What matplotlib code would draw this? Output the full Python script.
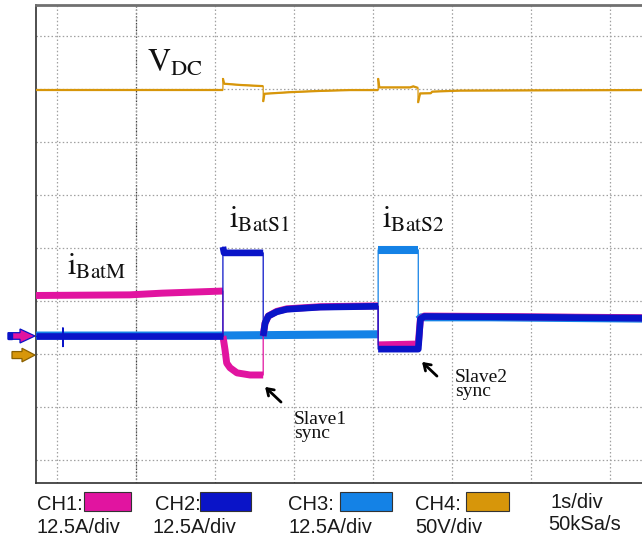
import matplotlib
matplotlib.use('Agg')
import matplotlib.pyplot as plt
import matplotlib.transforms as mtransforms
from matplotlib.patches import Rectangle, Polygon
from matplotlib import font_manager

plt.rcParams['mathtext.fontset'] = 'stix'

# ---------------- scope settings ----------------
channels = ['CH1:', 'CH2:', 'CH3:', 'CH4:']
channel_colors = ['#E114A0', '#0A14C8', '#1482E6', '#D7960A']
channel_scales = ['12.5A/div', '12.5A/div', '12.5A/div', '50V/div']
timebase_labels = ['1s/div', '50kSa/s']
amps_per_div = 12.5
volts_per_div = 50.0
gnd_current_div = 2.34    # ground marker CH1..CH3 (divisions above lowest grid line)
gnd_voltage_div = 1.98    # ground marker CH4

# ---------------- traces (time [s], value [A] / [V]) ----------------
t_vdc = [-0.27, 2.10, 2.10, 2.115, 2.32, 2.61, 2.61, 2.625, 2.95, 3.33, 3.71,
         4.065, 4.065, 4.08, 4.47, 4.51, 4.57, 4.57, 4.595, 4.73, 4.75, 5.10, 7.41]
v_vdc = [250.0, 250.0, 261.0, 256.0, 254.8, 253.7, 239.0, 246.5, 248.0, 249.2, 250.0,
         250.0, 261.0, 252.5, 252.5, 253.5, 252.0, 238.0, 246.8, 247.0, 248.5, 249.5, 250.0]

t_ibatm = [-0.27, 0.92, 1.33, 2.10, 2.10, 2.127, 2.148, 2.19, 2.278, 2.443, 2.61, 2.61,
           2.633, 2.675, 2.781, 2.908, 3.076, 3.33, 4.065, 4.065, 4.573, 4.60, 4.65, 5.5, 7.41]
i_ibatm = [9.55, 9.7, 10.1, 10.6, 0.0, -3.3, -6.4, -7.5, -8.7, -9.2, -9.2, 0.0,
           3.0, 4.7, 5.8, 6.4, 6.6, 6.9, 7.1, -2.1, -1.9, 4.0, 4.7, 4.6, 4.3]

t_ibats1 = [-0.27, 0.075, 0.075, 0.075, 0.075, 0.075, 2.10, 2.10, 2.115, 2.61, 2.61,
            2.633, 2.675, 2.781, 2.908, 3.076, 3.33, 4.065, 4.065, 4.573, 4.60, 4.65, 5.5, 7.41]
i_ibats1 = [-0.1, -0.1, 1.9, -2.5, 1.0, -0.1, -0.1, 21.0, 19.6, 19.6, 0.0,
            3.0, 4.7, 5.7, 6.3, 6.5, 6.8, 7.0, -3.1, -3.1, 4.0, 4.6, 4.5, 4.2]

t_ibats2 = [-0.27, 2.0, 3.3, 4.065, 4.065, 4.573, 4.573, 4.61, 5.5, 7.41]
i_ibats2 = [0.1, 0.1, 0.3, 0.4, 20.3, 20.3, 3.8, 4.4, 4.4, 4.1]

# ---------------- figure ----------------
W, H = 642, 541
fig = plt.figure(figsize=(W / 100, H / 100), dpi=100)
ax = fig.add_axes([36 / W, 58 / H, (W - 36) / W, 478 / H])
ax.set_xlim(-0.266, 7.405)
ax.set_ylim(-0.434, 8.585)

ax.set_xticks(range(0, 8))
ax.set_yticks(range(0, 9))
ax.tick_params(length=0, labelbottom=False, labelleft=False)
ax.grid(True, color='#a0a0a0', lw=0.9, linestyle=(0, (1.2, 1.8)))
ax.axvline(1, color='#404040', lw=0.9, linestyle=(0, (1.2, 1.5)), zorder=1)
ax.spines['right'].set_visible(False)
ax.spines['top'].set_color('#707070')
ax.spines['top'].set_linewidth(2.0)
ax.spines['left'].set_color('#303030')
ax.spines['left'].set_linewidth(1.2)
ax.spines['bottom'].set_color('#303030')
ax.spines['bottom'].set_linewidth(1.2)


def draw_trace(t, vals, gnd, scale, color, lw_thick, z):
    y = [gnd + v / scale for v in vals]
    ax.plot(t, y, color=color, lw=0.9, zorder=z)
    runs, cur = [], None
    for i in range(len(t) - 1):
        if t[i + 1] > t[i]:
            if cur is None:
                cur = [i]
            cur.append(i + 1)
        else:
            if cur:
                runs.append(cur)
            cur = None
    if cur:
        runs.append(cur)
    for r in runs:
        ax.plot([t[k] for k in r], [y[k] for k in r], color=color, lw=lw_thick,
                solid_capstyle='butt', solid_joinstyle='round', zorder=z)


draw_trace(t_ibats2, i_ibats2, gnd_current_div, amps_per_div, channel_colors[2], 5.8, 3)
draw_trace(t_ibatm, i_ibatm, gnd_current_div, amps_per_div, channel_colors[0], 5.0, 4)
draw_trace(t_ibats1, i_ibats1, gnd_current_div, amps_per_div, channel_colors[1], 4.8, 5)
draw_trace(t_vdc, v_vdc, gnd_voltage_div, volts_per_div, channel_colors[3], 1.6, 6)

# ---------------- ground markers ----------------
blend = mtransforms.blended_transform_factory(ax.transAxes, ax.transData)


def marker(gnd, color, edge, body_len, head_len, body_h, head_h, z):
    tr = fig.dpi_scale_trans + mtransforms.ScaledTranslation(0, gnd, blend)
    tip = -0.01
    pts = [(tip, 0), (tip - head_len, head_h), (tip - head_len, body_h),
           (tip - head_len - body_len, body_h), (tip - head_len - body_len, -body_h),
           (tip - head_len, -body_h), (tip - head_len, -head_h)]
    p = Polygon(pts, closed=True, fc=color, ec=edge, lw=0.9, transform=tr,
                clip_on=False, zorder=z)
    fig.add_artist(p)
    return tr, tip - head_len - body_len


tr1, left1 = marker(gnd_current_div, channel_colors[0], channel_colors[1], 0.12, 0.15, 0.033, 0.07, 10)
fig.add_artist(Rectangle((left1, -0.033), 0.04, 0.066, fc=channel_colors[1], ec=channel_colors[1],
                         transform=tr1, clip_on=False, zorder=11))
marker(gnd_voltage_div, channel_colors[3], '#8a6000', 0.10, 0.13, 0.035, 0.068, 10)

# ---------------- labels ----------------
ax.text(1.14, 7.32, r'$\mathrm{V}_{\mathrm{DC}}$', fontsize=23, va='baseline', ha='left', color='#111111')
ax.text(0.127, 3.49, r'$\mathrm{i}_{\mathrm{BatM}}$', fontsize=22, va='baseline', ha='left', color='#111111')
ax.text(2.177, 4.377, r'$\mathrm{i}_{\mathrm{BatS1}}$', fontsize=22, va='baseline', ha='left', color='#111111')
ax.text(4.114, 4.377, r'$\mathrm{i}_{\mathrm{BatS2}}$', fontsize=22, va='baseline', ha='left', color='#111111')

serif = ['Liberation Serif', 'DejaVu Serif']
ax.text(3.0, 0.92, 'Slave1\nsync', family=serif, fontsize=14, va='top', ha='left',
        linespacing=0.72, color='#111111')
ax.text(5.04, 1.71, 'Slave2\nsync', family=serif, fontsize=14, va='top', ha='left',
        linespacing=0.72, color='#111111')

arrow_kw = dict(arrowstyle='->,head_length=0.45,head_width=0.3', color='black', lw=2.0)
ax.annotate('', xy=(2.608, 1.415), xytext=(2.861, 1.057), arrowprops=arrow_kw)
ax.annotate('', xy=(4.595, 1.887), xytext=(4.835, 1.547), arrowprops=arrow_kw)

# ---------------- channel legend ----------------
installed = {f.name for f in font_manager.fontManager.ttflist}
if 'Liberation Sans Narrow' in installed:
    sans, lsize = ['Liberation Sans Narrow', 'DejaVu Sans'], 17
else:
    sans, lsize = ['Liberation Sans', 'DejaVu Sans'], 14.5
row1_y, row2_y = 510, 533
ch_text_x = [37, 155, 288, 415]
scale_text_x = [37, 153, 288, 415]
box_x = [(84, 131), (200, 251), (340, 392), (466, 509)]
for name, col, sc, tx, sx, (bx0, bx1) in zip(channels, channel_colors, channel_scales,
                                             ch_text_x, scale_text_x, box_x):
    fig.text(tx / W, 1 - row1_y / H, name, family=sans, fontsize=lsize, color='#1a1a1a', va='baseline')
    fig.text(sx / W, 1 - row2_y / H, sc, family=sans, fontsize=lsize, color='#1a1a1a', va='baseline')
    fig.add_artist(Rectangle((bx0 / W, 1 - 511 / H), (bx1 - bx0) / W, 19 / H, fc=col, ec='#333333',
                             lw=0.8, transform=fig.transFigure))
fig.text(550 / W, 1 - 508 / H, timebase_labels[0], family=sans, fontsize=lsize, color='#1a1a1a', va='baseline')
fig.text(548 / W, 1 - 530 / H, timebase_labels[1], family=sans, fontsize=lsize, color='#1a1a1a', va='baseline')

fig.savefig('out.png', dpi=100)
